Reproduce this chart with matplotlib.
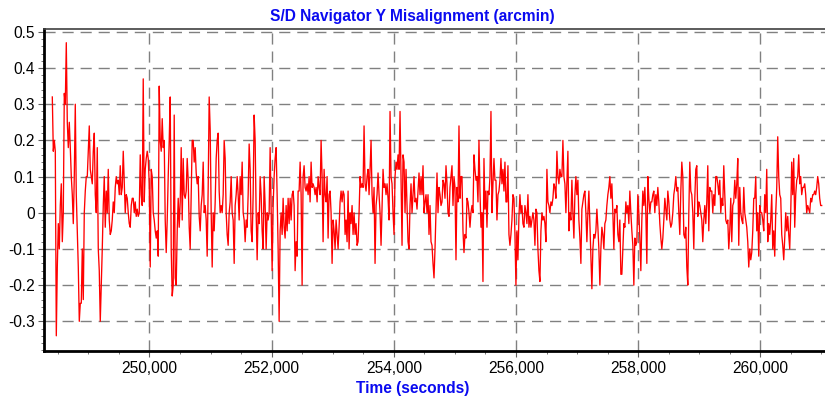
import numpy as np
import matplotlib
matplotlib.use('Agg')
import matplotlib.pyplot as plt
from matplotlib.ticker import FuncFormatter, MultipleLocator

plt.rcParams['font.family'] = ['Liberation Sans', 'DejaVu Sans']
plt.rcParams['axes.unicode_minus'] = False

#%% data (one value per ~16 s, in segments)
t_start = 248409
t_end = 261005

seg1 = [0.32, 0.17, 0.2, 0.17, -0.34, -0.15, -0.03, -0.1, 0.02, 0.08, -0.08, 0.0, 0.33, 0.3, 0.47,
        0.25, 0.18, 0.25, 0.18, 0.1, 0.05, -0.03, 0.1, 0.3, 0.05, -0.05, -0.15, -0.3, -0.25, -0.25,
        -0.1, -0.24, 0.0, 0.06, 0.1, 0.1, 0.17, 0.24, 0.12, 0.1, 0.08, 0.17, 0.22, 0.05, 0.0, 0.18,
        -0.1, -0.16, -0.3, -0.2, -0.1, 0.02, 0.1, -0.04, 0.06, 0.0, 0.12, -0.02, -0.06, -0.05, -0.02,
        0.03, 0.0, 0.07, 0.1, 0.08, 0.09, 0.05, 0.13, 0.05, 0.07, 0.17, 0.08, 0.0, 0.05, 0.04, 0.0,
        -0.03, -0.04, 0.02, 0.04, 0.04, 0.0, 0.03, -0.01, 0.01, -0.01, 0.0, 0.16]
seg2 = [0.05, 0.02, 0.37, 0.03, 0.12, 0.15, 0.17, 0.15, 0.08, -0.15, 0.12, 0.1, 0.0, -0.02, -0.05,
        -0.07, -0.05, -0.12, 0.35, 0.2, 0.17, 0.26, 0.18, 0.2, -0.02, -0.11, -0.02, 0.1, 0.2, 0.32,
        -0.1, -0.23, -0.2, 0.27, -0.18, -0.2, -0.05, 0.04, -0.04, 0.03, 0.18, -0.02, 0.15, 0.05, 0.04,
        0.06, 0.15, 0.09, -0.04, -0.1, 0.05, 0.2, 0.2, 0.14, 0.18, 0.11, 0.08, 0.1, -0.01, -0.05, 0.02,
        0.05, 0.14, 0.0, 0.02, -0.02, -0.12, 0.07, 0.32, 0.23, 0.0, -0.15, 0.0, -0.05, 0.03, 0.15, 0.2,
        0.22, 0.06, 0.0, 0.02, 0.0, 0.05, 0.2, 0.15, 0.0, -0.06, -0.09, 0.0, 0.03, 0.1, 0.0, -0.02,
        -0.14, 0.02, 0.05, 0.1]
seg3 = [0.05, -0.02, 0.1, 0.05, 0.14, 0.0, -0.02, -0.08, -0.02, -0.04, 0.05, 0.19, 0.12, -0.05, -0.08,
        0.05, 0.27, 0.2, 0.0, -0.13, 0.0, -0.03, 0.1, 0.05, -0.05, -0.1, 0.1, 0.02, -0.1, 0.0, -0.02,
        0.0, 0.18, 0.0, -0.16, 0.02, 0.1, 0.15, 0.18, 0.05, -0.1, -0.3, -0.05, 0.0, -0.06, 0.04, -0.04,
        -0.07, 0.02, -0.05, 0.04, -0.03, 0.04, -0.02, 0.05, 0.06, 0.02, -0.16, -0.08, -0.12, 0.06, 0.06,
        0.14, 0.05, -0.2, 0.1, 0.13, 0.07, 0.06, 0.08, 0.05, 0.1, 0.03, 0.14, 0.07, 0.08, 0.07, 0.05,
        0.07, 0.03, 0.1, 0.07, 0.05, 0.2, 0.1, -0.08, 0.12, 0.05, 0.03, 0.1, -0.07, 0.05, 0.06, 0.0,
        -0.14, -0.02]
seg4 = [-0.05, -0.1, -0.02, -0.06, -0.1, -0.04, 0.03, 0.06, 0.03, 0.06, 0.05, -0.06, -0.02, -0.08, 0.06,
        -0.1, 0.0, -0.03, 0.02, -0.06, 0.0, -0.06, -0.03, -0.09, -0.08, 0.0, 0.1, 0.07, 0.08, 0.07, 0.24,
        0.08, 0.06, 0.1, 0.12, 0.05, 0.12, 0.2, 0.05, 0.0, 0.07, -0.14, 0.02, 0.05, 0.11, 0.05, 0.0,
        -0.09, 0.02, 0.12, 0.07, 0.08, 0.05, 0.08, 0.04, -0.02, 0.28, 0.1, 0.08, 0.0, -0.06, 0.1, 0.14,
        0.12, 0.16, 0.12, 0.28, 0.1, -0.09, 0.16, 0.14, 0.0, 0.12, 0.02, -0.08, -0.1, 0.02, 0.08, 0.0,
        0.05, 0.1, 0.03, 0.04, 0.01, 0.06, 0.11, 0.05, 0.1, 0.05, 0.13, 0.0, 0.03, 0.05, 0.0, 0.05, -0.06]
seg5 = [0.02, -0.08, -0.09, -0.14, -0.18, -0.1, 0.0, 0.11, 0.0, 0.07, 0.05, 0.02, 0.03, 0.09, 0.08,
        0.04, 0.13, 0.08, 0.0, -0.01, 0.07, 0.1, 0.13, 0.02, 0.1, 0.07, -0.13, 0.07, 0.03, 0.24, 0.04,
        0.1, 0.1, -0.05, -0.11, -0.06, -0.07, 0.04, 0.03, 0.0, -0.04, 0.0, 0.02, 0.0, 0.16, 0.12, 0.09,
        0.1, 0.03, 0.2, 0.06, -0.04, 0.0, -0.19, 0.15, 0.01, 0.06, -0.04, 0.06, 0.05, 0.1, 0.28, 0.0,
        0.08, 0.15, 0.09, 0.09, -0.02, 0.05, 0.06, 0.09, 0.15, 0.08, 0.12, 0.06, 0.14, 0.03, 0.03, 0.13,
        -0.06, -0.09, -0.06, -0.02, 0.05, 0.04, -0.06, -0.2, -0.05, -0.13, -0.01, 0.05, 0.0, 0.02, -0.03,
        -0.04, 0.02]
seg6 = [0.0, -0.03, 0.05, -0.04, -0.01, -0.04, -0.02, 0.0, -0.02, -0.09, 0.01, 0.0, -0.1, -0.16, -0.19,
        -0.05, 0.0, -0.02, -0.01, -0.03, -0.08, 0.12, 0.03, 0.02, 0.0, 0.03, 0.02, 0.04, 0.08, 0.07, 0.04,
        0.17, 0.1, 0.08, 0.12, 0.1, 0.1, 0.2, 0.1, 0.08, 0.0, 0.09, 0.17, -0.05, 0.0, -0.02, 0.09, 0.0,
        -0.07, 0.05, 0.1, 0.05, 0.09, -0.02, -0.07, -0.14, 0.01, 0.03, 0.05, 0.06, 0.0, -0.08, 0.0, 0.06,
        -0.03, -0.12, -0.21, -0.1, -0.06, -0.07, -0.05, 0.01, -0.04, -0.1, -0.2, -0.1, -0.04, -0.06, -0.1,
        -0.03, -0.02, 0.02, 0.05, 0.07, 0.1, 0.04, 0.08, 0.0, -0.1, 0.01, 0.0, 0.02, -0.06, -0.08, -0.02,
        -0.17]
seg7 = [-0.17, -0.1, -0.03, -0.04, 0.03, 0.0, 0.02, -0.03, 0.06, 0.0, -0.05, -0.09, -0.2, -0.07, -0.09,
        -0.08, 0.05, 0.0, -0.07, -0.16, -0.02, 0.06, 0.02, 0.07, 0.0, -0.14, 0.1, 0.04, 0.0, 0.03, 0.03,
        0.05, 0.06, 0.0, 0.05, 0.02, 0.07, 0.03, -0.03, -0.07, -0.1, -0.07, -0.02, 0.04, 0.01, -0.02, 0.06,
        0.03, -0.02, -0.04, -0.03, 0.0, 0.05, 0.07, 0.1, 0.06, 0.07, 0.0, -0.06, 0.06, 0.14, 0.1, -0.06,
        -0.07, -0.04, -0.15, -0.2, 0.0, 0.14, 0.06, 0.05, 0.0, -0.1, 0.04, 0.12, 0.13, -0.01, 0.03, 0.02,
        0.0, -0.02, -0.08, -0.02, 0.02, -0.03, 0.03, 0.13, -0.05, 0.07, 0.06, 0.06, 0.0, 0.05, 0.02, 0.1,
        0.1, 0.08]
seg8 = [0.05, 0.09, 0.0, 0.04, 0.02, 0.13, 0.05, -0.02, -0.03, -0.02, -0.1, -0.05, 0.04, -0.08, 0.02,
        0.03, 0.09, 0.04, 0.08, 0.15, -0.09, 0.07, 0.0, -0.02, -0.03, 0.07, 0.0, -0.02, -0.04, -0.08,
        -0.15, -0.1, -0.13, -0.11, -0.05, 0.04, 0.04, 0.1, -0.05, 0.0, -0.12, 0.02, 0.0, 0.0, -0.02, -0.05,
        0.05, 0.0, 0.12, -0.08, -0.03, -0.06, -0.02, 0.05, -0.1, -0.05, -0.12, 0.0, 0.07, 0.21, 0.1, 0.05,
        0.04, -0.06, -0.09, -0.13, -0.07, 0.0, -0.05, -0.01, -0.06, -0.1, 0.0, 0.14, 0.05, 0.15, -0.04,
        0.05, 0.09, 0.1, 0.16, 0.08, 0.1, 0.05, 0.07, 0.07, 0.08, 0.05, 0.0, 0.02, 0.01, 0.0, 0.04, 0.03,
        0.05, 0.05, 0.06, 0.05, 0.07, 0.1, 0.08, 0.04, 0.02, 0.02]

misalign = np.array(seg1 + seg2 + seg3 + seg4 + seg5 + seg6 + seg7 + seg8)
time = np.linspace(t_start, t_end, len(misalign))

#%% plot
fig = plt.figure(figsize=(8.25, 3.98), dpi=100)
ax = fig.add_axes([0.0537, 0.1181, 0.9463, 0.8083])

ax.plot(time, misalign, color='#FF0000', lw=0.95)

ax.set_xlim(248278, 261059)
ax.set_ylim(-0.382, 0.507)

ax.xaxis.set_major_locator(MultipleLocator(2000))
ax.xaxis.set_minor_locator(MultipleLocator(500))
ax.yaxis.set_major_locator(MultipleLocator(0.1))
ax.yaxis.set_minor_locator(MultipleLocator(0.02))
ax.xaxis.set_major_formatter(FuncFormatter(lambda v, p: f'{int(round(v)):,}'))
ax.yaxis.set_major_formatter(FuncFormatter(lambda v, p: f'{round(v, 1):g}' if abs(v) > 1e-9 else '0'))

ax.grid(True, which='major', color='#808080', ls=(0, (8, 5)), lw=1.0)
ax.tick_params(which='major', direction='out', length=4, color='#606060', labelsize=11.2, pad=3)
ax.tick_params(which='minor', direction='out', length=2.5, color='#606060')

for side in ['left', 'bottom']:
    ax.spines[side].set_linewidth(2)
    ax.spines[side].set_color('black')
ax.spines['top'].set_linewidth(1.2)
ax.spines['top'].set_color('#404040')
ax.spines['right'].set_visible(False)

# title and axis label are centred on the figure, not the axes
fig.text(0.5, 1 - 16 / 398, 'S/D Navigator Y Misalignment (arcmin)', color='#0A0AF0',
         fontsize=11.2, fontweight='bold', ha='center', va='center')
fig.text(0.5, 1 - 388 / 398, 'Time (seconds)', color='#0A0AF0',
         fontsize=11.2, fontweight='bold', ha='center', va='center')

fig.savefig('out.png', dpi=100)
